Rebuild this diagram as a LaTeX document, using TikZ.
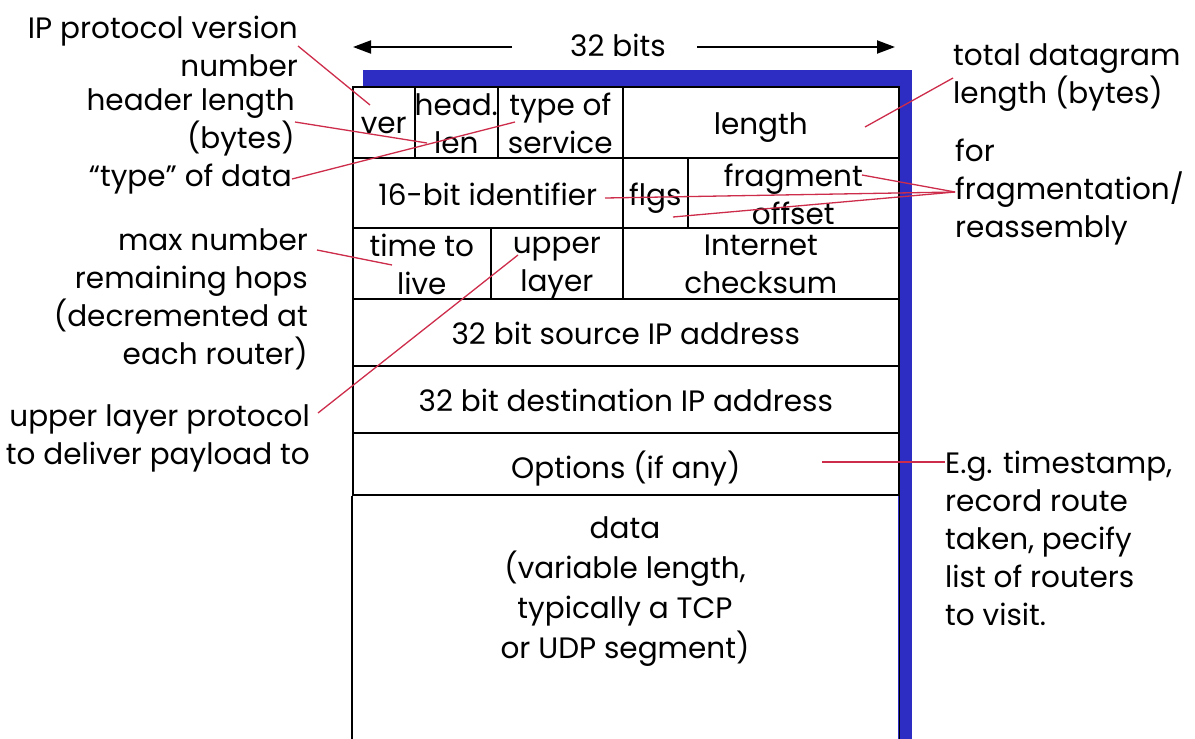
\documentclass[tikz,border=0pt]{standalone}
\usepackage{fontspec}
\setmainfont{Poppins}
\usetikzlibrary{arrows.meta, positioning}
\definecolor{hdrblue}{RGB}{45, 45, 195}
\definecolor{leadred}{RGB}{205, 45, 75}
\newcommand{\pktfont}{\fontsize{29.5}{38}\selectfont}
\tikzset{
  txt/.style={inner sep=0pt, font=\pktfont},
  celltxt/.style={txt, align=center, yshift=-5pt,
    execute at begin node=\vphantom{Ag}, execute at end node=\vphantom{Ag}},
  field/.style={draw=black, line width=1.6pt, anchor=north west, inner sep=0pt,
    label={[celltxt]center:#1}},
  wall/.style={draw=black, line width=1.6pt},
  lbl/.style={txt, align=right, anchor=east},
  rlbl/.style={txt, align=left, anchor=west},
  leader/.style={draw=leadred, line width=1.3pt},
  dimarrow/.style={line width=2pt, -{Triangle[length=18pt, width=13pt]}}
}

\begin{document}
\begin{tikzpicture}[x=1pt, y=-1pt]
  \useasboundingbox (0,0) rectangle (1195,739);

  % blue frame behind the header
  \fill[hdrblue] (363,70) rectangle (912,86);
  \fill[hdrblue] (898,70) rectangle (912,739);

  % 32 bits
  \node[txt] (bits) at (618,45) {32 bits};
  \coordinate (wl) at (353,47);
  \coordinate (wlin) at (512,47);
  \coordinate (wrin) at (697,47);
  \coordinate (wr) at (895,47);
  \draw[dimarrow] (wlin) -- (wl);
  \draw[dimarrow] (wrin) -- (wr);

  % Row 1
  \node[field={ver}, minimum width=62pt, minimum height=71pt] (ver) at (352,86) {};
  \node[field={head.\\len}, minimum width=83pt, minimum height=71pt] (hlen) at (414,86) {};
  \node[field={type of\\service}, minimum width=125pt, minimum height=71pt] (tos) at (497,86) {};
  \node[field={length}, minimum width=276pt, minimum height=71pt] (len) at (622,86) {};

  % Row 2
  \node[field={16-bit identifier}, minimum width=270pt, minimum height=70pt] (ident) at (352,157) {};
  \node[field={flgs}, minimum width=65pt, minimum height=70pt] (flgs) at (622,157) {};
  \node[field={fragment\\offset}, minimum width=211pt, minimum height=70pt] (frag) at (687,157) {};

  % Row 3
  \node[field={time to\\live}, minimum width=138pt, minimum height=71pt] (ttl) at (352,227) {};
  \node[field={upper\\layer}, minimum width=132pt, minimum height=71pt] (proto) at (490,227) {};
  \node[field={Internet\\checksum}, minimum width=276pt, minimum height=71pt] (csum) at (622,227) {};

  % Addresses and options
  \node[field={32 bit source IP address}, minimum width=546pt, minimum height=67pt] (src) at (352,298) {};
  \node[field={32 bit destination IP address}, minimum width=546pt, minimum height=67pt] (dst) at (352,365) {};
  \node[field={Options (if any)}, minimum width=546pt, minimum height=62pt] (opts) at (352,432) {};

  % data, open at the bottom
  \draw[wall] (opts.south west) -- ++(0,245);
  \draw[wall] (opts.south east) -- ++(0,245);
  \node[txt, font=\fontsize{29.5}{40}\selectfont, align=center] (payload) at (625,592)
    {data\\(variable length,\\typically a TCP\\or UDP segment)};

  % Left notes
  \node[lbl] (verlbl) at (298,46) {IP protocol version\\number};
  \node[lbl] (hllbl) at (295,122) {header length\\(bytes)};
  \node[lbl] (typlbl) at (292,179) {``type'' of data};
  \node[lbl] (ttllbl) at (308,299) {max number\\remaining hops\\(decremented at\\each router)};
  \node[lbl] (protolbl) at (310,438) {upper layer protocol\\to deliver payload to};

  % Right notes
  \node[rlbl] (lenlbl) at (953,78) {total datagram\\length (bytes)};
  \node[rlbl] (fraglbl) at (955,192) {for\\fragmentation/\\reassembly};
  \node[rlbl] (eglbl) at (945,538) {E.g. timestamp,\\record route\\taken, pecify\\list of routers\\to visit.};

  % Leader ends
  \coordinate (verpt) at (370,105);
  \coordinate (hlpt) at (427,143);
  \coordinate (typpt) at (515,122);
  \coordinate (ttlpt) at (392,265);
  \coordinate (ttlfrom) at (317,250);
  \coordinate (protopt) at (518,255);
  \coordinate (protofrom) at (318,413);
  \coordinate (lenpt) at (865,127);
  \coordinate (fragpt) at (862,175);
  \coordinate (idpt) at (605,198);
  \coordinate (offpt) at (673,217);
  \coordinate (optpt) at (822,462);

  % Leaders
  \draw[leader] (verlbl.east) -- (verpt);
  \draw[leader] (hllbl.east) -- (hlpt);
  \draw[leader] (typlbl.east) -- (typpt);
  \draw[leader] (ttlfrom) -- (ttlpt);
  \draw[leader] (protofrom) -- (protopt);
  \draw[leader] (lenlbl.west) -- (lenpt);
  \draw[leader] (fraglbl.west) -- (fragpt);
  \draw[leader] (fraglbl.west) -- (idpt);
  \draw[leader] (fraglbl.west) -- (offpt);
  \draw[leader] (eglbl.west |- optpt) -- (optpt);
\end{tikzpicture}
\end{document}
